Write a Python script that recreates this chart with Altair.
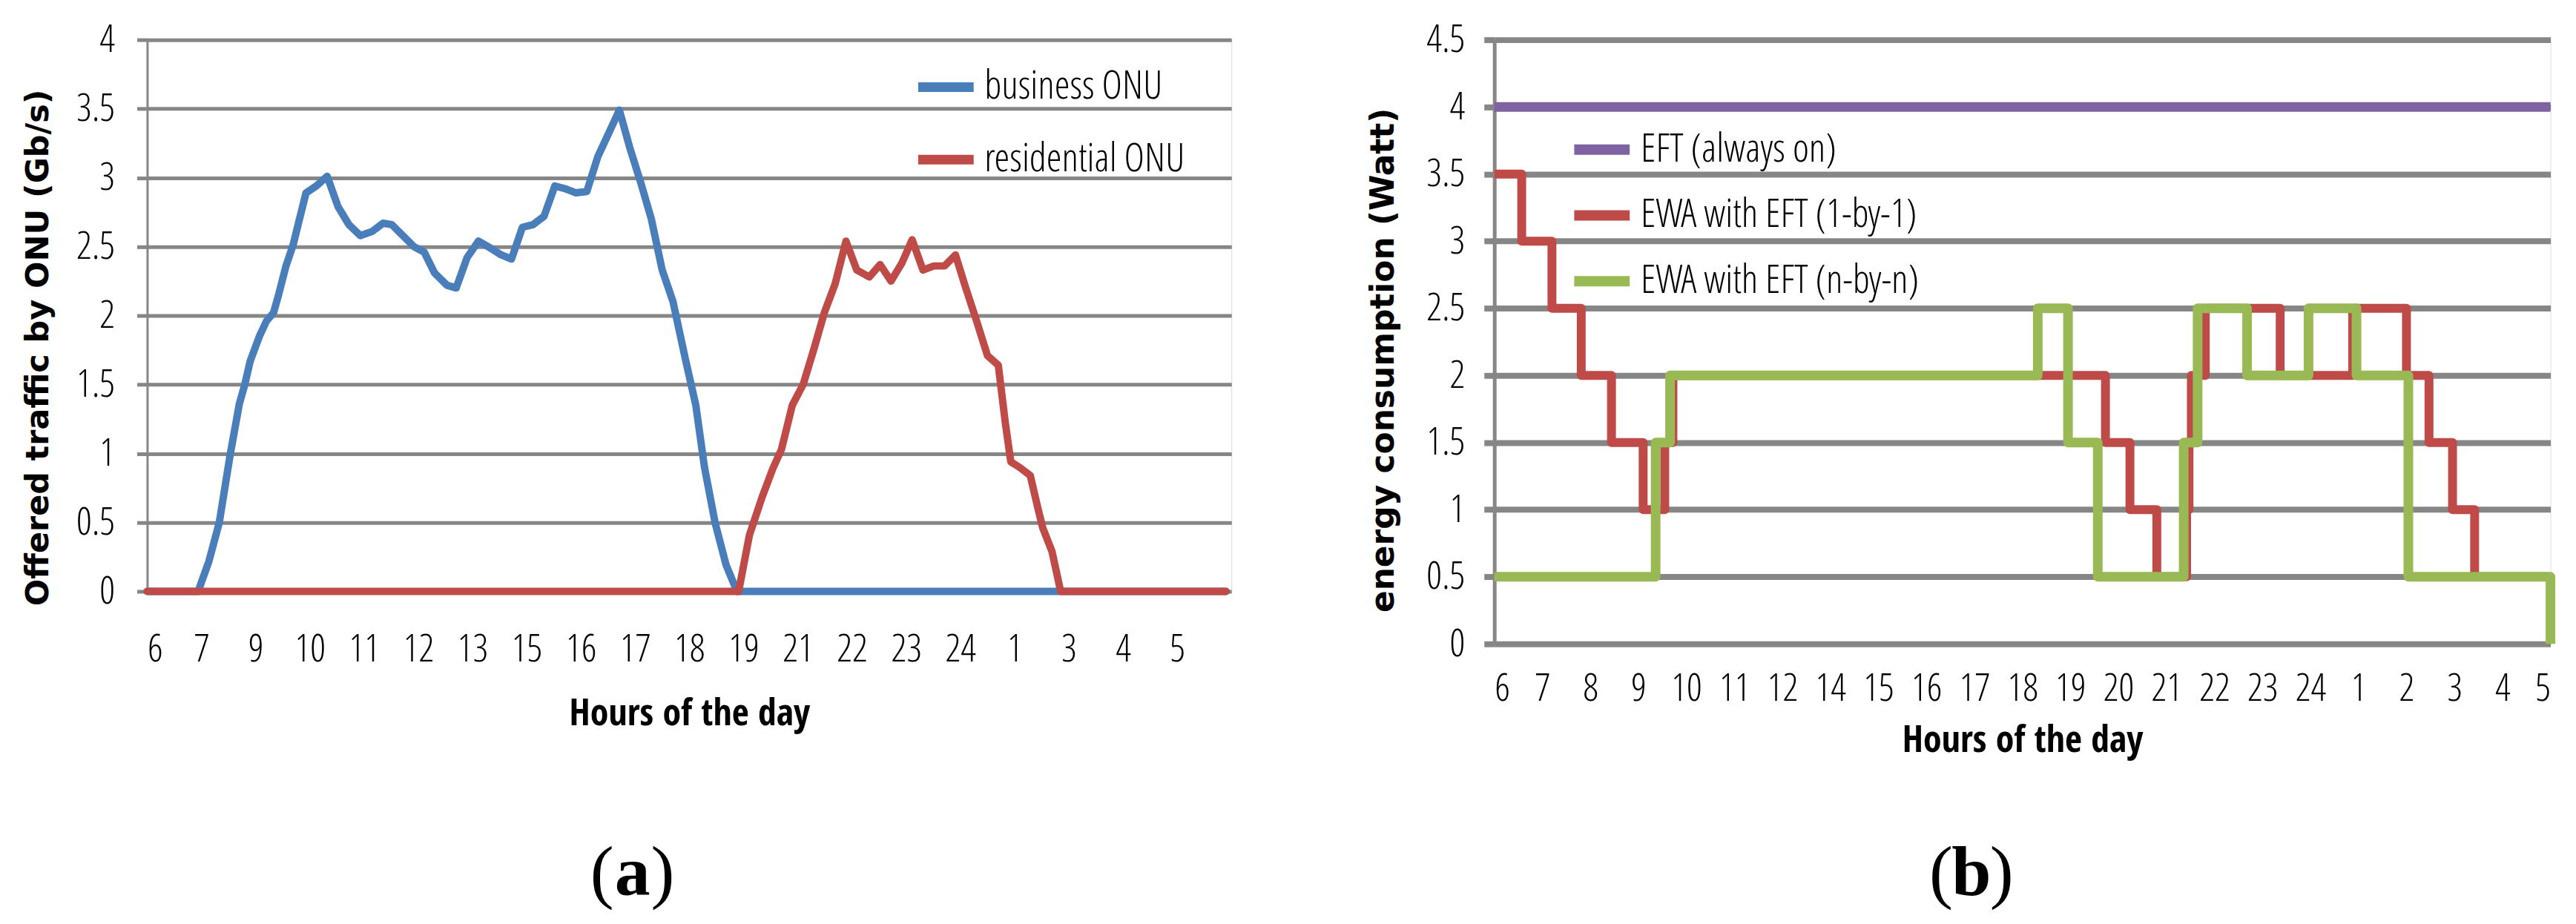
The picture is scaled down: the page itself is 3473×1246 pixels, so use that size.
import altair as alt
import pandas as pd

# ---------------- data: panel (a) ----------------
hour_labels_a = ["6", "7", "9", "10", "11", "12", "13", "15", "16", "17",
                 "18", "19", "21", "22", "23", "24", "1", "3", "4", "5"]

business_x = [0, 0.94, 1.14, 1.33, 1.53, 1.70, 1.80, 1.90, 2.07, 2.20, 2.33, 2.43,
              2.56, 2.69, 2.79, 2.93, 3.12, 3.32, 3.52, 3.72, 3.93, 4.15, 4.35,
              4.51, 4.74, 4.92, 5.11, 5.30, 5.53, 5.70, 5.90, 6.11, 6.33, 6.53,
              6.72, 6.92, 7.12, 7.32, 7.52, 7.71, 7.91, 8.11, 8.31, 8.51, 8.71,
              8.90, 9.10, 9.30, 9.50, 9.70, 9.93, 10.12, 10.28, 10.48, 10.68,
              10.88, 19.9]
business_y = [0, 0, 0.22, 0.50, 0.99, 1.36, 1.50, 1.67, 1.85, 1.96, 2.02, 2.16,
              2.36, 2.51, 2.67, 2.89, 2.94, 3.01, 2.79, 2.66, 2.58, 2.61, 2.67,
              2.66, 2.57, 2.50, 2.46, 2.31, 2.22, 2.20, 2.42, 2.54, 2.49, 2.44,
              2.41, 2.64, 2.66, 2.72, 2.94, 2.92, 2.89, 2.90, 3.15, 3.32, 3.49,
              3.22, 2.97, 2.70, 2.33, 2.10, 1.68, 1.35, 0.90, 0.49, 0.19,
              0, 0]

residential_x = [0, 10.91, 11.11, 11.34, 11.54, 11.70, 11.90, 12.10, 12.30, 12.49,
                 12.69, 12.89, 13.09, 13.32, 13.52, 13.72, 13.92, 14.11, 14.31,
                 14.51, 14.71, 14.91, 15.10, 15.30, 15.50, 15.70, 15.83, 15.93,
                 16.09, 16.29, 16.42, 16.52, 16.69, 16.85, 19.9]
residential_y = [0, 0, 0.41, 0.68, 0.89, 1.03, 1.35, 1.50, 1.76, 2.02,
                 2.23, 2.54, 2.33, 2.28, 2.37, 2.25, 2.38, 2.55, 2.33,
                 2.36, 2.36, 2.44, 2.20, 1.96, 1.71, 1.64, 1.22, 0.94,
                 0.90, 0.84, 0.62, 0.46, 0.29, 0, 0]

series_a = ["business ONU", "residential ONU"]
colors_a = ["#4A7EBB", "#BE4B48"]

# ---------------- data: panel (b) ----------------
hour_labels_b = ["6", "7", "8", "9", "10", "11", "12", "14", "15", "16", "17", "18",
                 "19", "20", "21", "22", "23", "24", "1", "2", "3", "4", "5"]

eft_x = [0, 22]
eft_y = [4, 4]

one_by_one_x = [0, 0.57, 1.2, 1.81, 2.44, 3.1, 3.55, 3.72, 12.73, 13.24, 13.8,
                14.42, 14.47, 14.52, 14.81, 16.37, 17.88, 19.0, 19.47, 19.96,
                20.42, 22]
one_by_one_y = [3.5, 3.0, 2.5, 2.0, 1.5, 1.0, 1.5, 2.0, 1.5, 1.0, 0.5,
                1.0, 1.5, 2.0, 2.5, 2.0, 2.5, 2.0, 1.5, 1.0,
                0.5, 0.5]

n_by_n_x = [0, 3.36, 3.66, 11.32, 11.95, 12.57, 14.36, 14.65, 15.68, 16.96,
            17.96, 19.04, 22, 22]
n_by_n_y = [0.5, 1.5, 2.0, 2.5, 1.5, 0.5, 1.5, 2.5, 2.0, 2.5,
            2.0, 0.5, 0.5, 0]

series_b = ["EFT (always on)", "EWA with EFT (1-by-1)", "EWA with EFT (n-by-n)"]
colors_b = ["#7E62A1", "#BE4B48", "#98B954"]

# ---------------- styling ----------------
NARROW = "Open Sans Condensed Light, Roboto Condensed, DejaVu Sans Condensed, sans-serif"
NARROW_BOLD = "Open Sans Condensed, Roboto Condensed, DejaVu Sans Condensed, sans-serif"
WIDE_BOLD = "DejaVu Sans, Verdana, sans-serif"
SERIF = "Liberation Serif, Times New Roman, serif"
GRID = "#868686"


def frame(xs, ys, name):
    return pd.DataFrame({"pos": xs, "val": ys, "series": name, "i": range(len(xs))})


def label_expr(labels):
    return "[" + ",".join("'%s'" % l for l in labels) + "][datum.value]"


one_row = pd.DataFrame({"k": [0]})


def caption(letter, cx, base_y):
    parts = []
    parts.append(alt.Chart(one_row).mark_text(text="(", font=SERIF, fontSize=96, align="right",
                                              baseline="alphabetic", color="black")
                 .encode(x=alt.value(cx - 25), y=alt.value(base_y)))
    parts.append(alt.Chart(one_row).mark_text(text=letter, font=SERIF, fontSize=96, fontWeight="bold",
                                              align="center", baseline="alphabetic", color="black")
                 .encode(x=alt.value(cx), y=alt.value(base_y)))
    parts.append(alt.Chart(one_row).mark_text(text=")", font=SERIF, fontSize=96, align="left",
                                              baseline="alphabetic", color="black")
                 .encode(x=alt.value(cx + 25), y=alt.value(base_y)))
    return parts


# ---------------- panel (a) ----------------
W_A, H_A = 1466, 746

x_a = alt.X("pos:Q", scale=alt.Scale(domain=[0, 20], nice=False, zero=False),
            axis=alt.Axis(values=list(range(20)), labelExpr=label_expr(hour_labels_a),
                          grid=False, ticks=False, tickSize=0, domain=False,
                          labelFont=NARROW, labelFontSize=52, labelColor="black",
                          labelPadding=53, labelAngle=0,
                          title="Hours of the day", titleFont=NARROW_BOLD, titleFontSize=50,
                          titleFontWeight="bold", titleColor="black",
                          titleBaseline="top", titleY=141))
y_a = alt.Y("val:Q", scale=alt.Scale(domain=[0, 4], nice=False, zero=True),
            axis=alt.Axis(values=[0, 0.5, 1, 1.5, 2, 2.5, 3, 3.5, 4], format="~g",
                          grid=True, gridColor=GRID, gridWidth=5, gridOpacity=1,
                          ticks=True, tickColor=GRID, tickWidth=5, tickSize=14,
                          domain=True, domainColor=GRID, domainWidth=3,
                          labelFont=NARROW, labelFontSize=52, labelColor="black",
                          labelPadding=30,
                          title="Offered traffic by ONU (Gb/s)", titleFont=WIDE_BOLD,
                          titleFontSize=43, titleFontWeight="bold", titleColor="black",
                          titleAngle=270, titleAlign="center", titleBaseline="middle",
                          titleX=-147, titleY=416))
color_a = alt.Color("series:N", scale=alt.Scale(domain=series_a, range=colors_a),
                    legend=alt.Legend(orient="none", legendX=1036, legendY=20, title=None,
                                      symbolType="stroke", symbolSize=5625, symbolStrokeWidth=13,
                                      labelFont=NARROW, labelFontSize=53, labelColor="black",
                                      labelOffset=8, labelLimit=1000, rowPadding=27, padding=0))

blue = alt.Chart(frame(business_x, business_y, series_a[0])).mark_line(
    strokeWidth=10, strokeJoin="round", strokeCap="round").encode(
    x=x_a, y=y_a, color=color_a, order="i:Q")
red = alt.Chart(frame(residential_x, residential_y, series_a[1])).mark_line(
    strokeWidth=10, strokeJoin="round", strokeCap="round").encode(
    x=x_a, y=y_a, color=color_a, order="i:Q")
anchor = alt.Chart(one_row).mark_rule(color="white", strokeWidth=1).encode(
    x=alt.value(-190), x2=alt.value(-189), y=alt.value(-43))

panel_a = alt.layer(blue, red, *caption("a", 656, 1157), anchor).properties(width=W_A, height=H_A)

# ---------------- panel (b) ----------------
W_B, H_B = 1428, 817

x_b = alt.X("pos:Q", scale=alt.Scale(domain=[0, 22], nice=False, zero=False),
            axis=alt.Axis(values=list(range(23)), labelExpr=label_expr(hour_labels_b),
                          grid=False, ticks=False, tickSize=0, domain=False,
                          labelFont=NARROW, labelFontSize=52, labelColor="black",
                          labelPadding=35, labelAngle=0,
                          title="Hours of the day", titleFont=NARROW_BOLD, titleFontSize=50,
                          titleFontWeight="bold", titleColor="black",
                          titleBaseline="top", titleY=106))
y_b = alt.Y("val:Q", scale=alt.Scale(domain=[0, 4.5], nice=False, zero=True),
            axis=alt.Axis(values=[0, 0.5, 1, 1.5, 2, 2.5, 3, 3.5, 4, 4.5], format="~g",
                          grid=True, gridColor=GRID, gridWidth=8, gridOpacity=1,
                          ticks=True, tickColor=GRID, tickWidth=8, tickSize=14,
                          domain=True, domainColor=GRID, domainWidth=5,
                          labelFont=NARROW, labelFontSize=52, labelColor="black",
                          labelPadding=26,
                          title="energy consumption (Watt)", titleFont=WIDE_BOLD,
                          titleFontSize=44, titleFontWeight="bold", titleColor="black",
                          titleAngle=270, titleAlign="center", titleBaseline="middle",
                          titleX=-150, titleY=433))
color_b = alt.Color("series:N", scale=alt.Scale(domain=series_b, range=colors_b),
                    legend=alt.Legend(orient="none", legendX=101, legendY=104, title=None,
                                      symbolType="stroke", symbolSize=5625, symbolStrokeWidth=14,
                                      labelFont=NARROW, labelFontSize=53, labelColor="black",
                                      labelOffset=8, labelLimit=1000, rowPadding=16, padding=0))

purple = alt.Chart(frame(eft_x, eft_y, series_b[0])).mark_line(
    strokeWidth=13, interpolate="step-after").encode(
    x=x_b, y=y_b, color=color_b, order="i:Q")
red_b = alt.Chart(frame(one_by_one_x, one_by_one_y, series_b[1])).mark_line(
    strokeWidth=12, interpolate="step-after", strokeJoin="round").encode(
    x=x_b, y=y_b, color=color_b, order="i:Q")
green_b = alt.Chart(frame(n_by_n_x, n_by_n_y, series_b[2])).mark_line(
    strokeWidth=13, interpolate="step-after", strokeJoin="round").encode(
    x=x_b, y=y_b, color=color_b, order="i:Q")

panel_b = alt.layer(purple, red_b, green_b, *caption("b", 645, 1157)).properties(width=W_B, height=H_B)

chart = (
    alt.hconcat(panel_a, panel_b, spacing=355.5, bounds="flush")
    .resolve_scale(x="independent", y="independent", color="independent")
    .resolve_legend(color="independent")
    .configure_view(strokeWidth=0)
    .configure(background="white")
    .properties(padding=0)
)

chart.save("out.html", embed_options={"renderer": "svg", "actions": False})
